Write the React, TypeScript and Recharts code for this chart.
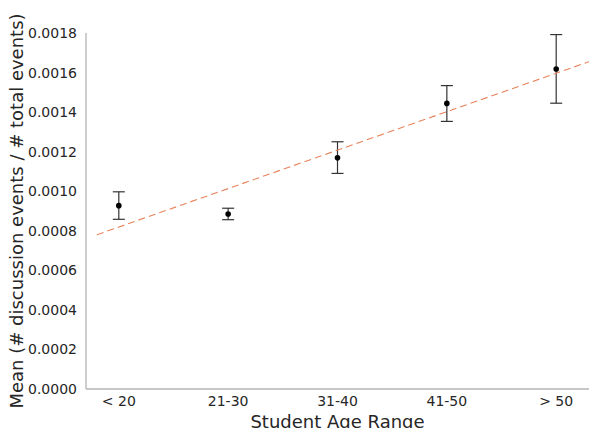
import { ScatterChart, Scatter, XAxis, YAxis, ErrorBar, Label } from 'recharts'

const ageRanges = ['< 20', '21-30', '31-40', '41-50', '> 50']
const means = [0.000927, 0.000885, 0.001169, 0.001444, 0.001618]
const lower = [0.000858, 0.000856, 0.00109, 0.001353, 0.001445]
const upper = [0.000997, 0.000914, 0.00125, 0.001534, 0.001792]
const yTicks = [0, 0.0002, 0.0004, 0.0006, 0.0008, 0.001, 0.0012, 0.0014, 0.0016, 0.0018]
// dashed trend line, end points
const trendX = [-0.2, 4.3]
const trendY = [0.00078, 0.001655]

const points = ageRanges.map((_, i) => ({
  x: i,
  y: means[i],
  err: [means[i] - lower[i], upper[i] - means[i]],
}))
const trend = trendX.map((x, i) => ({ x, y: trendY[i] }))

const font = 'DejaVu Sans, sans-serif'
const textColor = '#262626'
const spine = '#b4b4b4'

const Dot = (p: any) => <circle cx={p.cx} cy={p.cy} r={2.8} fill="#000" />

export default function App() {
  return (
    <div style={{ position: 'absolute', left: 0, top: 0, background: '#fff' }}>
      <ScatterChart width={590} height={428} margin={{ top: 33, right: 1, bottom: 0, left: 0 }}>
        <XAxis
          type="number"
          dataKey="x"
          domain={[-0.3, 4.3]}
          ticks={[0, 1, 2, 3, 4]}
          tickFormatter={(v: number) => ageRanges[v]}
          allowDataOverflow
          height={39}
          tickLine={false}
          tickMargin={1}
          axisLine={{ stroke: spine, strokeWidth: 1.3 }}
          tick={{ fill: textColor, fontSize: 14, fontFamily: font }}
        >
          <Label
            value="Student Age Range"
            position="insideBottom"
            offset={0}
            style={{ fill: textColor, fontSize: 18, fontFamily: font }}
          />
        </XAxis>
        <YAxis
          type="number"
          dataKey="y"
          domain={[0, 0.0018]}
          ticks={yTicks}
          tickFormatter={(v: number) => v.toFixed(4)}
          width={86}
          tickLine={false}
          tickMargin={3}
          axisLine={{ stroke: spine, strokeWidth: 1.3 }}
          tick={{ fill: textColor, fontSize: 14, fontFamily: font }}
        >
          <Label
            value="Mean (# discussion events / # total events)"
            angle={-90}
            position="insideLeft"
            dx={12}
            style={{ fill: textColor, fontSize: 18, fontFamily: font, textAnchor: 'middle' }}
          />
        </YAxis>
        <Scatter
          data={trend}
          line={{ stroke: '#e8825a', strokeWidth: 1.1, strokeDasharray: '7 4' }}
          shape={() => null}
          isAnimationActive={false}
        />
        <Scatter data={points} shape={Dot} isAnimationActive={false}>
          <ErrorBar dataKey="err" direction="y" width={6} stroke="#333" strokeWidth={1.2} />
        </Scatter>
      </ScatterChart>
    </div>
  )
}
